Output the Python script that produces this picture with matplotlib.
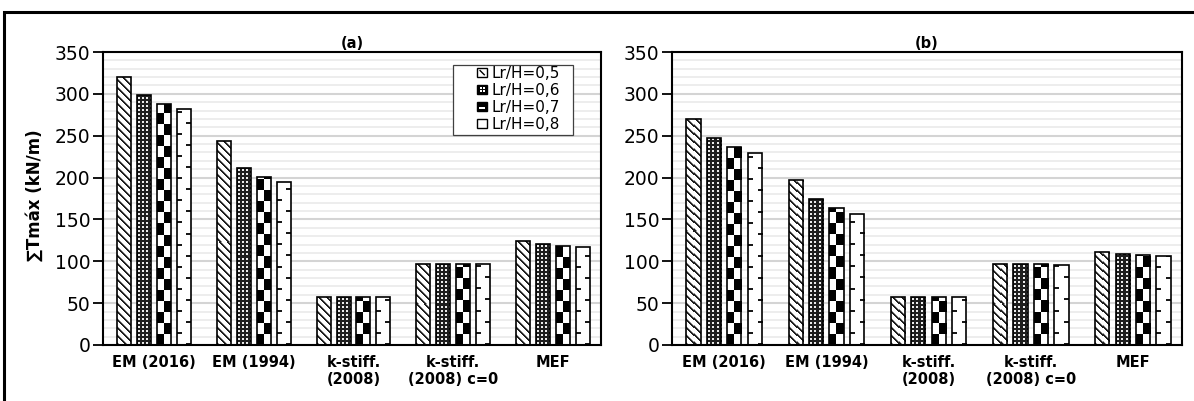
import numpy as np
import matplotlib
matplotlib.use("Agg")
import matplotlib.pyplot as plt
from matplotlib.patches import Rectangle
from matplotlib.lines import Line2D
from matplotlib.ticker import MultipleLocator

plt.rcParams["font.family"] = ["DejaVu Sans"]

categories = ["EM (2016)", "EM (1994)", "k-stiff.\n(2008)", "k-stiff.\n(2008) c=0", "MEF"]
series_labels = ["Lr/H=0,5", "Lr/H=0,6", "Lr/H=0,7", "Lr/H=0,8"]

# Sum of maximum reinforcement tensions, kN/m
panel_a_05 = [320, 244, 57, 97, 124]
panel_a_06 = [299, 212, 57, 97, 121]
panel_a_07 = [288, 201, 57, 97, 118]
panel_a_08 = [282, 195, 57, 97, 117]

panel_b_05 = [270, 197, 57, 97, 111]
panel_b_06 = [247, 175, 57, 97, 109]
panel_b_07 = [236, 164, 57, 97, 108]
panel_b_08 = [229, 157, 57, 96, 106]

W, H = 1194, 401
fig = plt.figure(figsize=(W / 100, H / 100), dpi=100)


def texture(kind, wpx, hpx):
    """Grayscale fill pattern in pixel units (row 0 = bottom)."""
    x = np.arange(wpx)[None, :]
    y = np.arange(hpx)[:, None]
    img = np.ones((hpx, wpx))
    if kind == 0:  # back-slash stripes
        phase = (x + y) % 8
        img = np.where(phase < 2, 0.12, np.where(phase == 2, 0.6, 1.0))
    elif kind == 1:  # dark with light dots
        light = np.isin(x % 4, (1, 2)) & np.isin(y % 4, (1, 2))
        img = np.where(light, 0.92, 0.12)
    elif kind == 2:  # large checkerboard
        dark = ((x // 7) + (y // 11)) % 2 == 0
        img = np.where(dark, 0.0, 1.0)
    else:  # short dashes alternating from each edge
        dark = (((y % 22) < 2) & (x >= wpx - 5)) | ((((y + 11) % 22) < 2) & (x < 5))
        img = np.where(dark, 0.1, 1.0)
    return img


def draw_panel(ax, series, title):
    n = len(categories)
    xs = np.arange(n)
    bw = 0.14
    offsets = [-0.3, -0.1, 0.1, 0.3]
    ax.set_xlim(-0.51, n - 0.52)
    ax.set_ylim(0, 350)
    fig.canvas.draw()
    to_px = ax.transData
    for k, vals in enumerate(series):
        pos = xs + offsets[k]
        bars = ax.bar(pos, vals, width=bw, facecolor="white", edgecolor="none", zorder=2)
        for rect in bars:
            x0, y0 = rect.get_x(), rect.get_y()
            x1, y1 = x0 + rect.get_width(), y0 + rect.get_height()
            (px0, py0), (px1, py1) = to_px.transform([(x0, y0), (x1, y1)])
            wpx = max(1, int(round(px1 - px0)))
            hpx = max(1, int(round(py1 - py0)))
            img = ax.imshow(texture(k, wpx, hpx), cmap="gray", vmin=0, vmax=1,
                            extent=(x0, x1, y0, y1), origin="lower",
                            interpolation="nearest", aspect="auto", zorder=2.2)
            img.set_clip_path(rect)
        ax.bar(pos, vals, width=bw, fill=False, edgecolor="black", linewidth=1.2, zorder=3)
    ax.set_xlim(-0.51, n - 0.52)
    ax.set_ylim(0, 350)
    ax.set_xticks(xs)
    ax.set_xticklabels(categories, fontweight="bold", fontsize=10.5, linespacing=1.15)
    ax.set_yticks(np.arange(0, 351, 50))
    ax.yaxis.set_minor_locator(MultipleLocator(10))
    ax.tick_params(axis="y", which="major", direction="out", length=7, width=1.3,
                   labelsize=13.5, pad=2)
    ax.tick_params(axis="y", which="minor", length=0)
    ax.tick_params(axis="x", length=0, pad=7)
    ax.grid(which="minor", axis="y", color="#ececec", linewidth=1.3)
    ax.grid(which="major", axis="y", color="#d4d4d4", linewidth=1.5)
    ax.set_axisbelow(True)
    for sp in ax.spines.values():
        sp.set_linewidth(1.5)
        sp.set_color("black")
    ax.set_title(title, fontweight="bold", fontsize=10.5, pad=3)


ax_a = fig.add_axes([103 / W, 1 - 345 / H, 498 / W, 293 / H])
ax_b = fig.add_axes([672 / W, 1 - 345 / H, 510 / W, 293 / H])

draw_panel(ax_a, [panel_a_05, panel_a_06, panel_a_07, panel_a_08], "(a)")
draw_panel(ax_b, [panel_b_05, panel_b_06, panel_b_07, panel_b_08], "(b)")

fig.text(35 / W, 1 - 195 / H, "∑Tmáx (kN/m)", rotation=90, ha="center", va="center",
         fontweight="bold", fontsize=12)


class Swatch:
    def __init__(self, kind):
        self.kind = kind

    def legend_artist(self, legend, orig_handle, fontsize, handlebox):
        tr = handlebox.get_transform()
        w, h = handlebox.width, handlebox.height
        s = 0.62 * fontsize
        x = -handlebox.xdescent + w - s
        y = -handlebox.ydescent + (h - s) / 2
        face = "black" if self.kind in (1, 2) else "white"
        base = Rectangle((x, y), s, s, facecolor=face, edgecolor="black", lw=1.0, transform=tr)
        handlebox.add_artist(base)
        if self.kind == 0:
            handlebox.add_artist(Line2D([x + 0.28 * s, x + 0.72 * s], [y + 0.72 * s, y + 0.28 * s],
                                        color="black", lw=1.0, transform=tr))
        elif self.kind == 1:
            for cx in (0.22, 0.56):
                for cy in (0.22, 0.56):
                    handlebox.add_artist(Rectangle((x + cx * s, y + cy * s), 0.22 * s, 0.22 * s,
                                                   facecolor="white", edgecolor="none", transform=tr))
        elif self.kind == 2:
            handlebox.add_artist(Rectangle((x + 0.2 * s, y + 0.2 * s), 0.6 * s, 0.3 * s,
                                           facecolor="white", edgecolor="none", transform=tr))
        return base


# legend box drawn as its own frame; the entries sit inside it
def ax_frac(ax, px, py):
    x0, x1 = 103, 601
    return (px - x0) / (x1 - x0), (345 - py) / 293


fx0, fy0 = ax_frac(ax_a, 453, 135)
fx1, fy1 = ax_frac(ax_a, 573, 65)
ax_a.add_patch(Rectangle((fx0, fy0), fx1 - fx0, fy1 - fy0, transform=ax_a.transAxes,
                         facecolor="white", edgecolor="#404040", linewidth=0.9, zorder=4))

handles = [Rectangle((0, 0), 1, 1) for _ in series_labels]
tx, ty = ax_frac(ax_a, 560, 66)
leg = ax_a.legend(handles, series_labels, handler_map={h: Swatch(i) for i, h in enumerate(handles)},
                  loc="upper right", bbox_to_anchor=(tx, ty), borderaxespad=0,
                  fontsize=11, frameon=False, borderpad=0.0, labelspacing=0.13,
                  handlelength=1.2, handletextpad=0.3)
leg.set_zorder(5)

# outer frame around the figure block
fig.patches.append(Rectangle((4 / W, -0.05), 1.1, (1 - 12 / H) + 0.05, transform=fig.transFigure,
                             fill=False, edgecolor="black", linewidth=2.2))

fig.savefig("out.png", dpi=100)
